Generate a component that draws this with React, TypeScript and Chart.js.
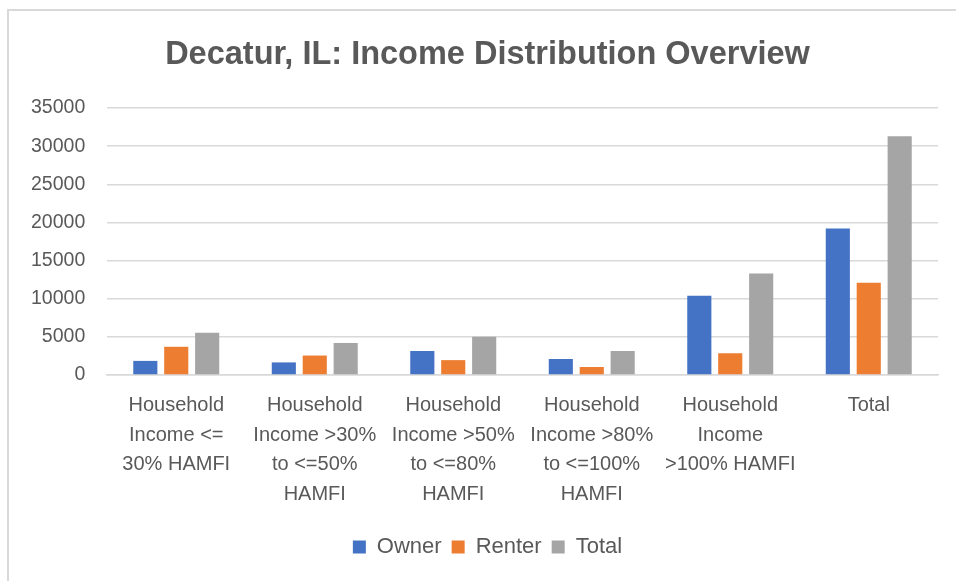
import React, { useEffect, useRef } from "react";
import { Chart, registerables } from "chart.js";

Chart.register(...registerables);

const TITLE = "Decatur, IL: Income Distribution Overview";
const categories: string[][] = [
  ["Household", "Income <=", "30% HAMFI"],
  ["Household", "Income >30%", "to <=50%", "HAMFI"],
  ["Household", "Income >50%", "to <=80%", "HAMFI"],
  ["Household", "Income >80%", "to <=100%", "HAMFI"],
  ["Household", "Income", ">100% HAMFI"],
  ["Total"],
];
const ownerValues = [1850, 1650, 3150, 2100, 10400, 19200];
const renterValues = [3700, 2550, 1950, 1050, 2850, 12100];
const totalValues = [5550, 4200, 5000, 3150, 13300, 31300];
const yTicks = [0, 5000, 10000, 15000, 20000, 25000, 30000, 35000];

const FONT = "'Liberation Sans', Arial, sans-serif";
const TEXT = "#595959";

export default function App() {
  const ref = useRef<HTMLCanvasElement | null>(null);
  useEffect(() => {
    if (!ref.current) return;
    const chart = new Chart(ref.current, {
      type: "bar",
      data: {
        labels: categories as any,
        datasets: [
          { label: "Owner", data: ownerValues, backgroundColor: "#4472C4" },
          { label: "Renter", data: renterValues, backgroundColor: "#ED7D31" },
          { label: "Total", data: totalValues, backgroundColor: "#A5A5A5" },
        ],
      },
      options: {
        animation: false,
        responsive: false,
        maintainAspectRatio: false,
        datasets: { bar: { categoryPercentage: 0.67, barPercentage: 0.78 } },
        layout: { padding: { left: 28, right: 28, top: 25, bottom: 13 } },
        plugins: {
          title: {
            display: true,
            text: TITLE,
            color: TEXT,
            font: { family: FONT, size: 32.5, weight: "bold", lineHeight: 1.2 },
            padding: { top: 0, bottom: 33 },
          },
          legend: {
            position: "bottom",
            labels: {
              color: TEXT,
              font: { family: FONT, size: 22 },
              boxWidth: 13,
              boxHeight: 13,
              padding: 10,
            },
          },
          tooltip: { enabled: false },
        },
        scales: {
          x: {
            grid: { display: false, drawTicks: false },
            border: { display: true, color: "#D9D9D9", width: 1.5 },
            ticks: {
              color: TEXT,
              font: { family: FONT, size: 20, lineHeight: 1.475 },
              maxRotation: 0,
              autoSkip: false,
              padding: 16,
            },
            afterFit: (s: any) => {
              s.height = 151;
            },
          },
          y: {
            min: 0,
            max: 35000,
            afterBuildTicks: (s: any) => {
              s.ticks = yTicks.map((v) => ({ value: v }));
            },
            grid: { color: "#D9D9D9", lineWidth: 1.5, drawTicks: false },
            border: { display: false },
            ticks: {
              color: TEXT,
              font: { family: FONT, size: 19.5 },
              mirror: true,
              crossAlign: "far",
              padding: -76,
              callback: (v: any) => String(v),
            },
            afterFit: (s: any) => {
              s.width = 70;
            },
          },
        },
      },
    });
    return () => chart.destroy();
  }, []);
  return (
    <div
      style={{
        position: "fixed",
        left: 7,
        top: 9,
        width: 949,
        height: 572,
        borderLeft: "2px solid #D9D9D9",
        borderTop: "2px solid #D9D9D9",
        boxSizing: "border-box",
        overflow: "hidden",
        background: "#fff",
      }}
    >
      <canvas ref={ref} width={957} height={570} style={{ display: "block" }} />
    </div>
  );
}
